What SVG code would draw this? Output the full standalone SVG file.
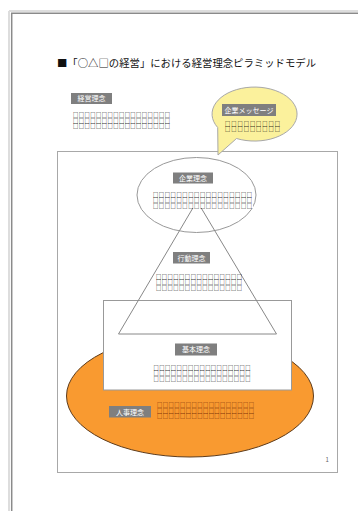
<svg xmlns="http://www.w3.org/2000/svg" width="358" height="511" viewBox="0 0 358 511">
<style>
.jp{font-family:"Noto Sans CJK JP","Noto Sans",sans-serif}
.lbl{fill:#7f7f7f}
.lt{font-family:"Noto Sans CJK JP",sans-serif;font-size:7px;fill:#fff}
.sq{font-family:"Noto Sans CJK JP",sans-serif;font-size:5.2px;font-weight:700;fill:#000}
.sqb{font-family:"Noto Sans CJK JP",sans-serif;font-size:5.2px;font-weight:700;fill:#6a2000}
.shape{stroke:#999;stroke-width:1}
</style>
<rect width="358" height="511" fill="#fff"/>
<g id="page">
<line x1="9" y1="11" x2="358" y2="11" stroke="#ddd" stroke-width="2"/>
<line x1="9" y1="11" x2="9" y2="511" stroke="#ddd" stroke-width="2"/>
<line x1="11" y1="13.3" x2="358" y2="13.3" stroke="#8a8a8a" stroke-width="1.5"/>
<line x1="11.7" y1="13" x2="11.7" y2="511" stroke="#8a8a8a" stroke-width="1.5"/>
</g>
<g id="title">
<text class="jp" x="57" y="67" font-size="10" fill="#111" textLength="259" lengthAdjust="spacingAndGlyphs">■「○△□の経営」における経営理念ピラミッドモデル</text>
</g>
<g id="frame">
<rect x="57.5" y="151.5" width="280" height="321" fill="#fff" stroke="#a8a8a8"/>
<text class="jp" x="325.5" y="462" font-size="6" fill="#666">1</text>
</g>
<g id="keiei-rinen">
<rect class="lbl" x="71" y="93" width="41" height="11"/>
<text class="lt" x="91.5" y="101.3" text-anchor="middle">経営理念</text>
<text class="sq" x="73" y="117" textLength="97" lengthAdjust="spacing">□□□□□□□□□□□□□□□□□</text>
<text class="sq" x="73" y="122.5" textLength="97" lengthAdjust="spacing">□□□□□□□□□□□□□□□□□</text>
<text class="sq" x="73" y="128" textLength="97" lengthAdjust="spacing">□□□□□□□□□□□□□□□□□</text>
</g>
<g id="jinji-rinen">
<ellipse cx="190" cy="396" rx="123.5" ry="61" fill="#f99a30" stroke="#5e3c1c" stroke-width="1"/>
<rect class="lbl" x="109" y="406" width="42" height="11.5"/>
<text class="lt" x="130" y="414.5" text-anchor="middle">人事理念</text>
<text class="sqb" x="157" y="407" textLength="97" lengthAdjust="spacing">□□□□□□□□□□□□□□□□□</text>
<text class="sqb" x="157" y="412.5" textLength="97" lengthAdjust="spacing">□□□□□□□□□□□□□□□□□</text>
<text class="sqb" x="157" y="418" textLength="97" lengthAdjust="spacing">□□□□□□□□□□□□□□□□□</text>
</g>
<g id="kihon-rinen">
<rect class="shape" x="103.5" y="300.5" width="188" height="89.5" fill="#fff"/>
<rect class="lbl" x="175" y="343.5" width="42" height="12"/>
<text class="lt" x="196" y="352.3" text-anchor="middle">基本理念</text>
<text class="sq" x="153.5" y="369.5" textLength="97" lengthAdjust="spacing">□□□□□□□□□□□□□□□□□</text>
<text class="sq" x="153.5" y="375" textLength="97" lengthAdjust="spacing">□□□□□□□□□□□□□□□□□</text>
<text class="sq" x="153.5" y="380.5" textLength="97" lengthAdjust="spacing">□□□□□□□□□□□□□□□□□</text>
</g>
<g id="kigyo-rinen">
<ellipse class="shape" cx="196.5" cy="195" rx="59.5" ry="37.5" fill="#fff"/>
</g>
<g id="connectors">
<polygon points="197,201 118.5,334 276.5,334" fill="none" stroke="#888" stroke-width="1"/>
</g>
<g id="kigyo-rinen-text">
<rect class="lbl" x="173" y="172.5" width="40" height="11"/>
<text class="lt" x="193" y="181" text-anchor="middle">企業理念</text>
<rect x="152" y="191" width="101" height="17" fill="#fff"/>
<text class="sq" x="153" y="196.5" textLength="99" lengthAdjust="spacing">□□□□□□□□□□□□□□□□□</text>
<text class="sq" x="153" y="202" textLength="99" lengthAdjust="spacing">□□□□□□□□□□□□□□□□□</text>
<text class="sq" x="153" y="207.5" textLength="99" lengthAdjust="spacing">□□□□□□□□□□□□□□□□□</text>
</g>
<g id="kodo-rinen">
<rect class="lbl" x="173" y="252" width="37" height="11.5"/>
<text class="lt" x="191.5" y="260.5" text-anchor="middle">行動理念</text>
<text class="sq" x="156" y="278.5" textLength="86" lengthAdjust="spacing">□□□□□□□□□□□□□□□</text>
<text class="sq" x="156" y="284" textLength="86" lengthAdjust="spacing">□□□□□□□□□□□□□□□</text>
<text class="sq" x="156" y="289.5" textLength="86" lengthAdjust="spacing">□□□□□□□□□□□□□□□</text>
</g>
<g id="kigyo-message">
<path d="M218,155 L217.7,127.5 A42.5,27 0 1 1 236.5,138.5 Z" fill="#fbf19c" stroke="#a8a8a8" stroke-width="1"/>
<rect class="lbl" x="222" y="104" width="54" height="12"/>
<text class="lt" x="249" y="112.5" text-anchor="middle">企業メッセージ</text>
<text class="sq" x="225" y="125.5" textLength="55" lengthAdjust="spacing">□□□□□□□□□</text>
<text class="sq" x="225" y="131" textLength="55" lengthAdjust="spacing">□□□□□□□□□</text>
</g>
</svg>
